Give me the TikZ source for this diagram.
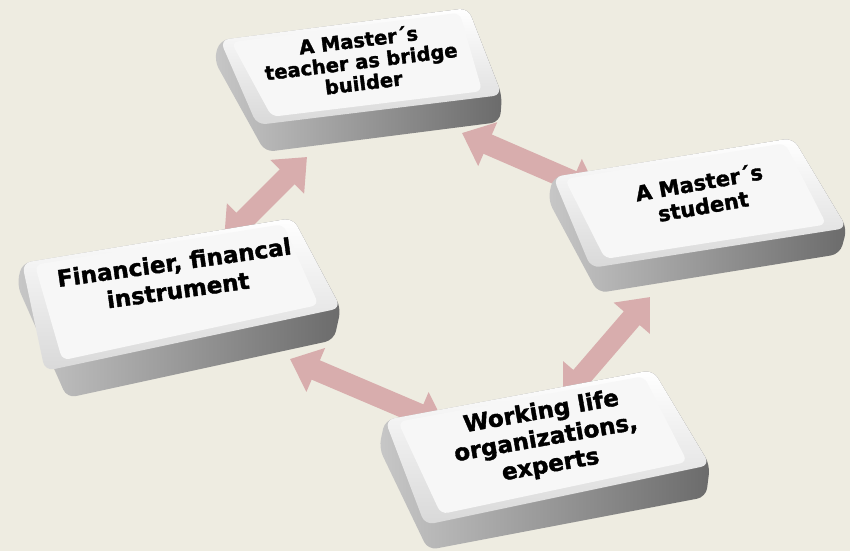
\documentclass[tikz,border=0pt]{standalone}
\usepackage{fontspec}
\setmainfont{DejaVu Sans}
\newfontfamily\keyfont[BoldFeatures={FakeBold=1.6}]{DejaVu Sans}
\usepackage{xcolor}
\usetikzlibrary{arrows.meta,calc,positioning}
\definecolor{bgbeige}{HTML}{EEECE1}
\definecolor{arrowpink}{HTML}{D8ADAD}

\begin{document}
\begin{tikzpicture}[x=1pt,y=-1pt]
	\tikzstyle{keytext}=[align=center, inner sep=0pt, text=black]
	\tikzstyle{arr}=[line width=21pt, arrowpink, {Triangle[width=46pt,length=28pt]}-{Triangle[width=46pt,length=28pt]}]
	\tikzstyle{keyside}=[rounded corners=9pt, left color=black!22, right color=black!58]
	\tikzstyle{keyface}=[rounded corners=9pt, top color=white, bottom color=black!15]
	\tikzstyle{keytop}=[rounded corners=7pt, fill=black!3]
	\fill[bgbeige] (0,0) rectangle (850,551);
	\useasboundingbox (0,0) rectangle (850,551);
	% arrow ends
	\coordinate (fin-a) at (224,240);
	\coordinate (tch-a) at (307,157);
	\coordinate (tch-b) at (462,133);
	\coordinate (stu-a) at (598,192);
	\coordinate (stu-b) at (650,297);
	\coordinate (wrk-a) at (563,398);
	\coordinate (wrk-b) at (445,425);
	\coordinate (fin-b) at (290,359);
	\draw[arr] (fin-a) -- (tch-a);
	\draw[arr] (tch-b) -- (stu-a);
	\draw[arr] (wrk-a) -- (stu-b);
	\draw[arr] (wrk-b) -- (fin-b);
	% teacher key
	\coordinate (tch-tl) at (220,40);
	\coordinate (tch-tr) at (468,8);
	\coordinate (tch-br) at (502,95);
	\coordinate (tch-bl) at (257,125);
	\shade[keyside] (tch-tl) -- (tch-tr) -- (tch-br) -- (500,122) -- (265,152) -- (214,60) -- cycle;
	\shade[keyface] (tch-tl) -- (tch-tr) -- (tch-br) -- (tch-bl) -- cycle;
	\fill[keytop] ($(tch-tl)!.04!(tch-br)$) -- ($(tch-tr)!.04!(tch-bl)$) -- ($(tch-br)!.07!(tch-tl)$) -- ($(tch-bl)!.07!(tch-tr)$) -- cycle;
	\node[keytext, rotate=7, font=\keyfont\fontsize{19.5}{21.5}\selectfont\bfseries] (tch) at (361,61) {A Master´s\\teacher as bridge\\builder};
	% financier key
	\coordinate (fin-tl) at (22,263);
	\coordinate (fin-tr) at (293,218);
	\coordinate (fin-br) at (341,308);
	\coordinate (fin-bl) at (45,371);
	\shade[keyside] (fin-tl) -- (fin-tr) -- (fin-br) -- (334,340) -- (67,398) -- (17,285) -- cycle;
	\shade[keyface] (fin-tl) -- (fin-tr) -- (fin-br) -- (fin-bl) -- cycle;
	\fill[keytop] ($(fin-tl)!.04!(fin-br)$) -- ($(fin-tr)!.04!(fin-bl)$) -- ($(fin-br)!.07!(fin-tl)$) -- ($(fin-bl)!.07!(fin-tr)$) -- cycle;
	\node[keytext, rotate=8, font=\keyfont\fontsize{23}{28}\selectfont\bfseries] (fin) at (176,276) {Financier, financal\\instrument};
	% student key
	\coordinate (stu-tl) at (553,177);
	\coordinate (stu-tr) at (793,138);
	\coordinate (stu-br) at (847,228);
	\coordinate (stu-bl) at (591,268);
	\shade[keyside] (stu-tl) -- (stu-tr) -- (stu-br) -- (840,254) -- (598,293) -- (548,200) -- cycle;
	\shade[keyface] (stu-tl) -- (stu-tr) -- (stu-br) -- (stu-bl) -- cycle;
	\fill[keytop] ($(stu-tl)!.04!(stu-br)$) -- ($(stu-tr)!.04!(stu-bl)$) -- ($(stu-br)!.07!(stu-tl)$) -- ($(stu-bl)!.07!(stu-tr)$) -- cycle;
	\node[keytext, rotate=10, font=\keyfont\fontsize{21}{24}\selectfont\bfseries] (stu) at (701,194) {A Master´s\\student};
	% working life key
	\coordinate (wrk-tl) at (385,420);
	\coordinate (wrk-tr) at (653,370);
	\coordinate (wrk-br) at (710,465);
	\coordinate (wrk-bl) at (425,525);
	\shade[keyside] (wrk-tl) -- (wrk-tr) -- (wrk-br) -- (706,497) -- (428,550) -- (379,448) -- cycle;
	\shade[keyface] (wrk-tl) -- (wrk-tr) -- (wrk-br) -- (wrk-bl) -- cycle;
	\fill[keytop] ($(wrk-tl)!.04!(wrk-br)$) -- ($(wrk-tr)!.04!(wrk-bl)$) -- ($(wrk-br)!.07!(wrk-tl)$) -- ($(wrk-bl)!.07!(wrk-tr)$) -- cycle;
	\node[keytext, rotate=10, font=\keyfont\fontsize{23}{27}\selectfont\bfseries] (wrk) at (546,439) {Working life\\organizations,\\experts};
\end{tikzpicture}
\end{document}
